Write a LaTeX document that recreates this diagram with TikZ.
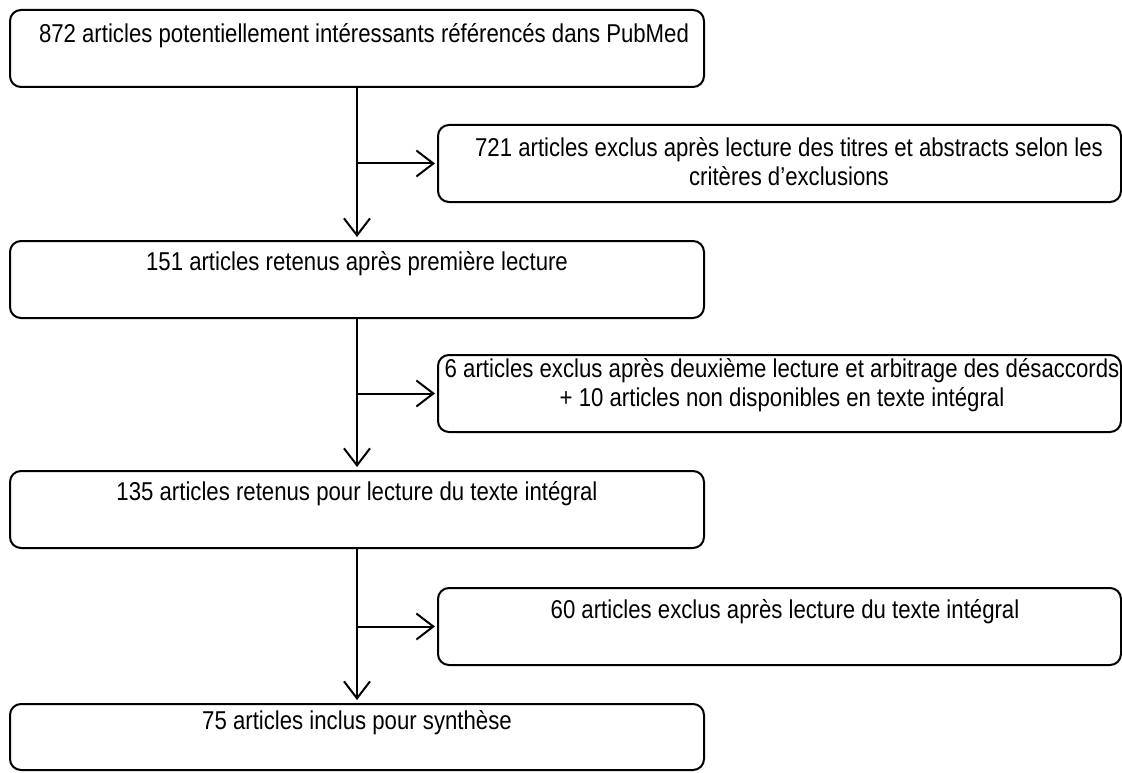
\documentclass[tikz,border=0pt]{standalone}
\usepackage{fontspec}
\setmainfont{Liberation Sans}[FakeStretch=0.86]
\usetikzlibrary{arrows.meta}
\begin{document}
\begin{tikzpicture}[x=1pt,y=-1pt,
  box/.style={draw=black, line width=2pt, rounded corners=11pt, inner sep=0pt, fill=none},
  mainbox/.style={box, minimum width=694pt, minimum height=77pt},
  sidebox/.style={box, minimum width=683pt, minimum height=77pt},
  txt/.style={font=\fontsize{25.8pt}{29pt}\selectfont, inner sep=0pt, align=center},
  arr/.style={line width=2pt, -{Straight Barb[length=17pt,width=26pt,line width=2pt]}}
]
\useasboundingbox (0,0) rectangle (1122,773);
% main boxes
\node[mainbox] (b1) at (357,48.5) {};
\node[mainbox] (b2) at (357,279.5) {};
\node[mainbox] (b3) at (357,509.5) {};
\node[mainbox, minimum height=66pt] (b4) at (357,737) {};
% side boxes
\node[sidebox] (s1) at (779.5,163.5) {};
\node[sidebox] (s2) at (779.5,393.5) {};
\node[sidebox] (s3) at (779.5,626.5) {};
% texts
\node[txt] (t1) at (364,36) {872 articles potentiellement intéressants référencés dans PubMed};
\node[txt] (t2) at (357,264) {151 articles retenus après première lecture};
\node[txt] (t3) at (357,494) {135 articles retenus pour lecture du texte intégral};
\node[txt] (t4) at (357,723) {75 articles inclus pour synthèse};
\node[txt] (u1) at (789,162) {721 articles exclus après lecture des titres et abstracts selon les\\critères d’exclusions};
\node[txt] (u2) at (782,385) {6 articles exclus après deuxième lecture et arbitrage des désaccords\\+ 10 articles non disponibles en texte intégral};
\node[txt] (u3) at (785,612) {60 articles exclus après lecture du texte intégral};
% trunk arrows
\draw[arr, shorten >=3pt] (b1.south) -- (b2.north);
\draw[arr, shorten >=3pt] (b2.south) -- (b3.north);
\draw[arr, shorten >=3pt] (b3.south) -- (b4.north);
% junctions
\coordinate (j1) at (b1.south |- s1.west);
\coordinate (j2) at (b2.south |- s2.west);
\coordinate (j3) at (b3.south |- s3.west);
\draw[arr, shorten >=2pt] (j1) -- (s1.west);
\draw[arr, shorten >=2pt] (j2) -- (s2.west);
\draw[arr, shorten >=2pt] (j3) -- (s3.west);
\end{tikzpicture}
\end{document}
